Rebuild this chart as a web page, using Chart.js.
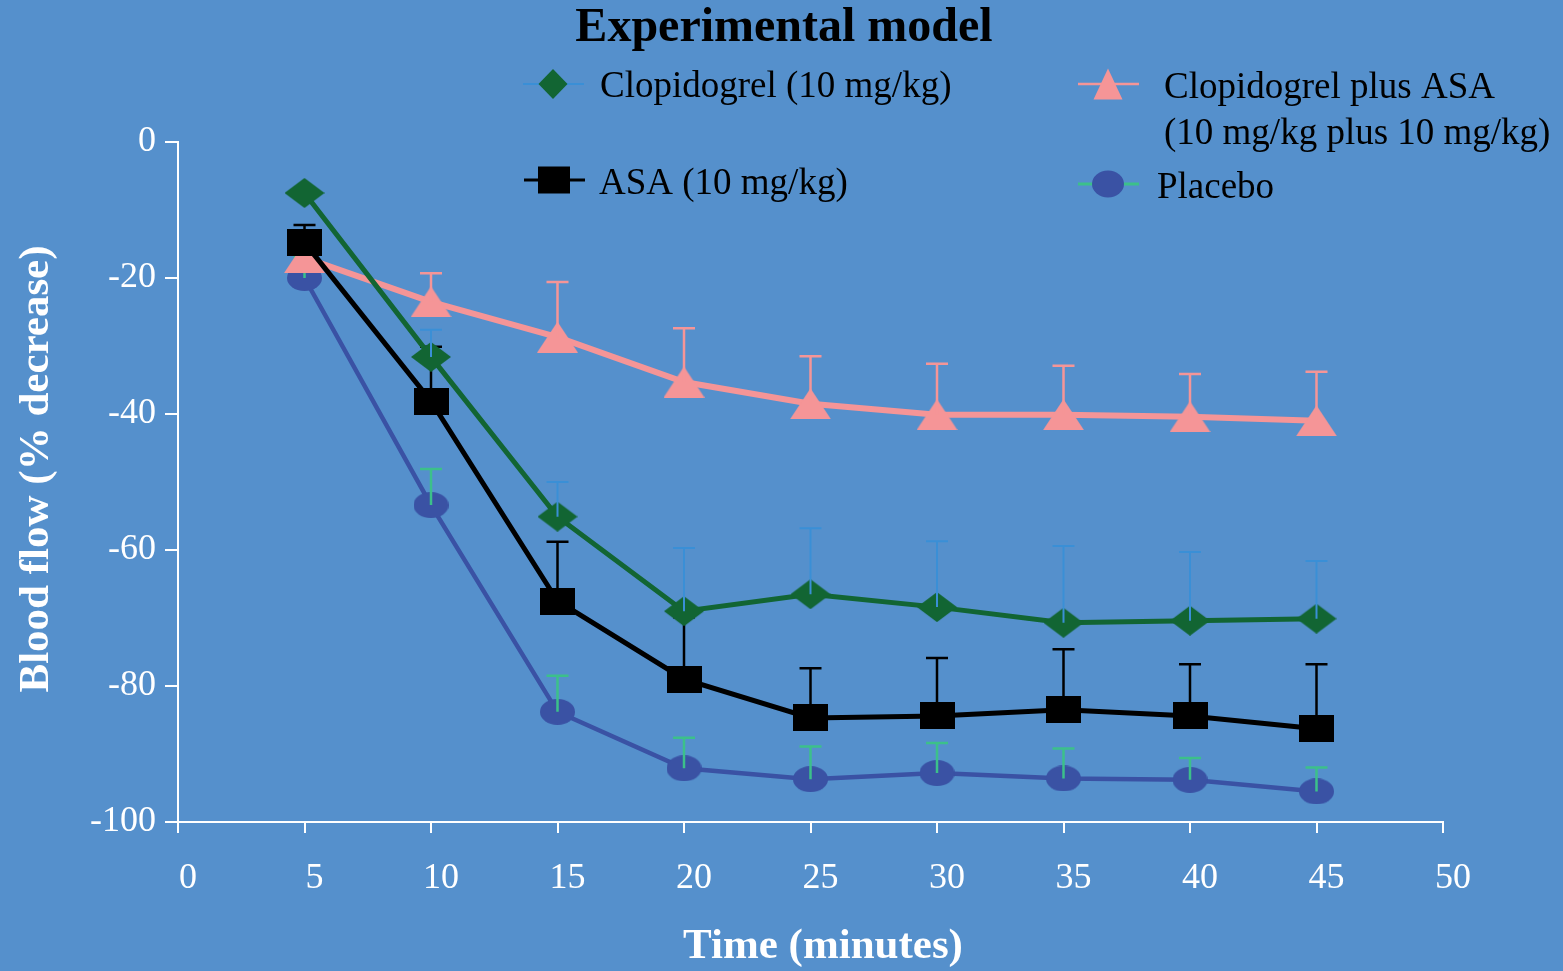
<!DOCTYPE html>
<html>
<head>
<meta charset="utf-8">
<script src="https://cdn.jsdelivr.net/npm/chart.js@4.4.0/dist/chart.umd.min.js"></script>
<style>
  html, body { margin: 0; padding: 0; background: #5590cc; }
  #wrap { width: 1563px; height: 971px; }
</style>
</head>
<body>
<div id="wrap"><canvas id="chart" width="1563" height="971"></canvas></div>
<script>
// time points (minutes)
const times = [5, 10, 15, 20, 25, 30, 35, 40, 45];
const xTicks = [0, 5, 10, 15, 20, 25, 30, 35, 40, 45, 50];
const yTicks = [0, -20, -40, -60, -80, -100];

// mean values
const clopidogrel = [-7.5, -31.6, -55.1, -69, -66.5, -68.4, -70.7, -70.4, -70.1];
const asa = [-14.8, -38.1, -67.5, -79, -84.7, -84.4, -83.5, -84.4, -86.3];
const combo = [-17, -23.5, -28.7, -35.3, -38.5, -40.1, -40.1, -40.4, -41];
const placebo = [-20, -53.4, -83.8, -92.1, -93.7, -92.8, -93.6, -93.8, -95.5];

// top end of each error bar
const clopidogrelErr = [-7.5, -27.6, -50, -59.7, -56.8, -58.7, -59.4, -60.3, -61.6];
const asaErr = [-12.2, -30.1, -58.8, -69.9, -77.4, -75.9, -74.6, -76.8, -76.8];
const comboErr = [-17, -19.3, -20.6, -27.4, -31.5, -32.6, -32.9, -34.1, -33.8];
const placeboErr = [-16.9, -48.1, -78.5, -87.6, -88.9, -88.4, -89.2, -90.6, -92];

const GREEN = '#126533', PINK = '#f59597', INDIGO = '#3a52a4', BLACK = '#000000';
const SERIF = '"Liberation Serif", "Times New Roman", serif';

function shapePath(ctx, shape, cx, cy, w, h) {
  ctx.beginPath();
  if (shape === 'diamond') {
    ctx.moveTo(cx, cy - h / 2); ctx.lineTo(cx + w / 2, cy);
    ctx.lineTo(cx, cy + h / 2); ctx.lineTo(cx - w / 2, cy);
  } else if (shape === 'triangle') {
    ctx.moveTo(cx, cy - h / 2); ctx.lineTo(cx + w / 2, cy + h / 2);
    ctx.lineTo(cx - w / 2, cy + h / 2);
  } else if (shape === 'square') {
    ctx.rect(cx - w / 2, cy - h / 2, w, h);
  } else {
    ctx.ellipse(cx, cy, w / 2, h / 2, 0, 0, Math.PI * 2);
  }
  ctx.closePath();
}

function marker(shape, w, h, color) {
  const c = document.createElement('canvas');
  c.width = w; c.height = h;
  const ctx = c.getContext('2d');
  ctx.fillStyle = color;
  shapePath(ctx, shape, w / 2, h / 2, w, h);
  ctx.fill();
  return c;
}

const errors = [
  { top: clopidogrelErr, color: '#3a8fd6', width: 2 },
  { top: asaErr, color: BLACK, width: 2.5 },
  { top: comboErr, color: PINK, width: 2.5 },
  { top: placeboErr, color: '#3cc08a', width: 2.5 }
];

const errorBars = {
  id: 'errorBars',
  afterDatasetDraw(chart, args) {
    const e = errors[args.index];
    const ctx = chart.ctx, x = chart.scales.x, y = chart.scales.y;
    const vals = chart.data.datasets[args.index].data;
    ctx.save();
    ctx.strokeStyle = e.color;
    ctx.lineWidth = e.width;
    times.forEach((t, i) => {
      if (e.top[i] >= vals[i] + 0.5) {
        const px = x.getPixelForValue(t);
        const y0 = y.getPixelForValue(vals[i]);
        const y1 = y.getPixelForValue(e.top[i]);
        ctx.beginPath();
        ctx.moveTo(px, y0); ctx.lineTo(px, y1);
        ctx.moveTo(px - 11, y1); ctx.lineTo(px + 11, y1);
        ctx.stroke();
      }
    });
    ctx.restore();
  }
};

const decorations = {
  id: 'decorations',
  afterDraw(chart) {
    const ctx = chart.ctx;
    ctx.save();
    ctx.fillStyle = BLACK;
    ctx.textAlign = 'center';
    ctx.textBaseline = 'middle';
    ctx.font = 'bold 48px ' + SERIF;
    ctx.fillText('Experimental model', 784, 29);

    ctx.fillStyle = '#ffffff';
    ctx.font = 'bold 43px ' + SERIF;
    ctx.fillText('Time (minutes)', 823, 947);
    ctx.translate(37, 469);
    ctx.rotate(-Math.PI / 2);
    ctx.fillText('Blood flow (% decrease)', 0, 0);
    ctx.restore();

    // legend
    const items = [
      { line: '#3a8fd6', lw: 2, x: 553, y: 84, shape: 'diamond', w: 29, h: 30, color: GREEN },
      { line: PINK, lw: 2.5, x: 1108, y: 84, shape: 'triangle', w: 29, h: 31, color: PINK },
      { line: BLACK, lw: 3, x: 554, y: 180, shape: 'square', w: 32, h: 27, color: BLACK },
      { line: '#3cc08a', lw: 3, x: 1108, y: 184, shape: 'circle', w: 32, h: 27, color: INDIGO }
    ];
    ctx.save();
    items.forEach(it => {
      ctx.strokeStyle = it.line;
      ctx.lineWidth = it.lw;
      ctx.beginPath();
      ctx.moveTo(it.x - 30, it.y); ctx.lineTo(it.x + 31, it.y);
      ctx.stroke();
      ctx.fillStyle = it.color;
      shapePath(ctx, it.shape, it.x, it.y, it.w, it.h);
      ctx.fill();
    });
    ctx.fillStyle = BLACK;
    ctx.font = '37px ' + SERIF;
    ctx.textAlign = 'left';
    ctx.textBaseline = 'middle';
    ctx.fillText('Clopidogrel (10 mg/kg)', 600, 87);
    ctx.fillText('Clopidogrel plus ASA', 1164, 88);
    ctx.fillText('(10 mg/kg plus 10 mg/kg)', 1164, 134);
    ctx.fillText('ASA (10 mg/kg)', 599, 184);
    ctx.fillText('Placebo', 1157, 188);
    ctx.restore();
  }
};

function series(label, data, color, width, shape, w, h) {
  return {
    label: label,
    data: data,
    borderColor: color,
    backgroundColor: color,
    borderWidth: width,
    tension: 0,
    pointStyle: marker(shape, w, h, color),
    pointRadius: 16,
    pointHoverRadius: 16,
    clip: false
  };
}

new Chart(document.getElementById('chart').getContext('2d'), {
  type: 'line',
  data: {
    labels: times,
    datasets: [
      series('Clopidogrel (10 mg/kg)', clopidogrel, GREEN, 5, 'diamond', 40, 30),
      series('ASA (10 mg/kg)', asa, BLACK, 5, 'square', 35, 27),
      series('Clopidogrel plus ASA (10 mg/kg plus 10 mg/kg)', combo, PINK, 6, 'triangle', 41, 31),
      series('Placebo', placebo, INDIGO, 4.5, 'circle', 35, 26)
    ]
  },
  options: {
    responsive: false,
    animation: false,
    layout: { padding: { top: 142, right: 120, left: 0, bottom: 0 } },
    plugins: {
      legend: { display: false },
      title: { display: false },
      tooltip: { enabled: false }
    },
    scales: {
      x: {
        type: 'linear',
        min: 0,
        max: 50,
        afterFit: s => { s.height = 149; },
        afterBuildTicks: s => { s.ticks = xTicks.map(v => ({ value: v })); },
        grid: { drawOnChartArea: false, color: '#ffffff', tickLength: 11, lineWidth: 2 },
        border: { color: '#ffffff', width: 2 },
        ticks: {
          color: '#ffffff',
          padding: 24,
          labelOffset: 10,
          maxRotation: 0,
          autoSkip: false,
          font: { family: SERIF, size: 36 }
        }
      },
      y: {
        min: -100,
        max: 0,
        afterFit: s => { s.width = 178; },
        afterBuildTicks: s => { s.ticks = yTicks.map(v => ({ value: v })); },
        grid: { drawOnChartArea: false, color: '#ffffff', tickLength: 13, lineWidth: 2 },
        border: { color: '#ffffff', width: 2 },
        ticks: {
          color: '#ffffff',
          padding: 9,
          autoSkip: false,
          font: { family: SERIF, size: 36 }
        }
      }
    }
  },
  plugins: [errorBars, decorations]
});
</script>
</body>
</html>
